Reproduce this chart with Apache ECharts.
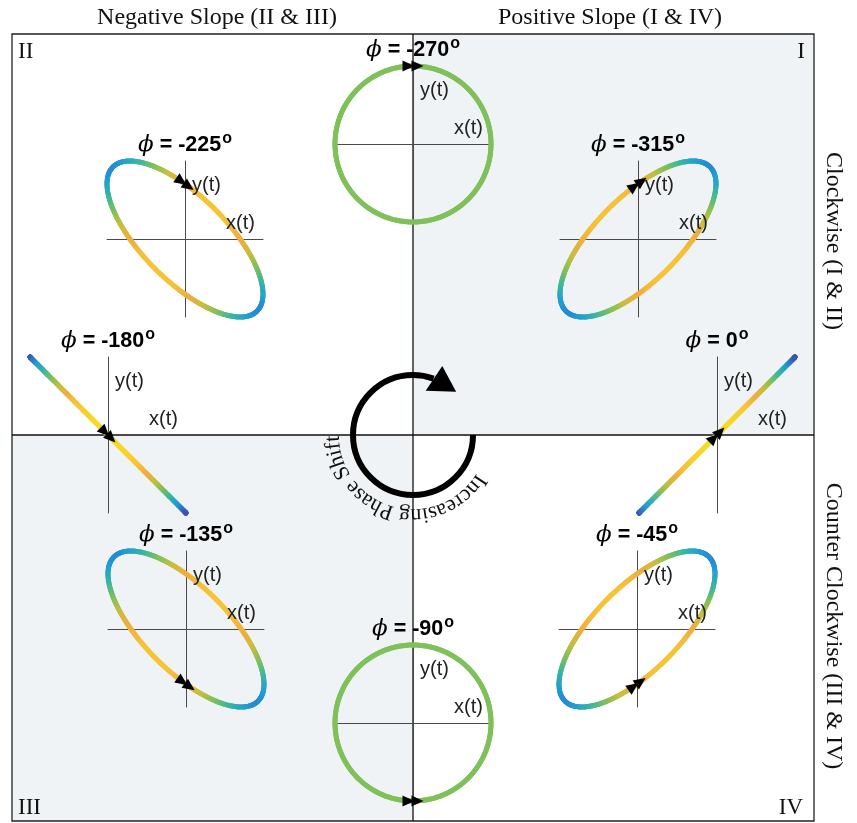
<!DOCTYPE html>
<html><head><meta charset="utf-8">
<script src="https://cdn.jsdelivr.net/npm/echarts@6/dist/echarts.min.js"></script>
<style>html,body{margin:0;padding:0;background:#fff}#chart{width:857px;height:823px}</style>
</head><body><div id="chart"></div>
<script>
// Phase offsets (degrees): x(t) = cos(t), y(t) = cos(t + phi)
const phases = [0, -45, -90, -135, -180, -225, -270, -315];
const phaseLabels = ['0', '-45', '-90', '-135', '-180', '-225', '-270', '-315'];
// panel centres on the page, same order as phases
const panelCenters = [[717, 435], [637, 629], [413, 723], [186, 629], [108, 435], [185, 239], [413, 144], [638, 239]];
// colour ramp along each trace, keyed on distance from the origin
const rampStops = [0, 0.45, 0.6, 0.72, 0.86, 1.0, 1.15, 1.28, 1.42];
const rampColors = ['#f7e31c', '#f7cd30', '#f4bf3b', '#f0ad3f', '#c6bf3e', '#7fc05a', '#36b5a4', '#1f9ad8', '#3f4fb0'];
const quadrantNames = ['I', 'II', 'III', 'IV'];
const slopeTitles = ['Negative Slope (II & III)', 'Positive Slope (I & IV)'];
const senseTitles = ['Clockwise (I & II)', 'Counter Clockwise (III & IV)'];
const loopCaption = 'Increasing Phase Shift';

const HALF = 78;          // half size of a panel in px
const SAMPLES = 240;
const deg = Math.PI / 180;

function hexToRgb(h) { return [1, 3, 5].map(i => parseInt(h.substr(i, 2), 16)); }
function rampColor(r) {
  if (r <= rampStops[0]) return rampColors[0];
  for (let i = 1; i < rampStops.length; i++) {
    if (r <= rampStops[i]) {
      const f = (r - rampStops[i - 1]) / (rampStops[i] - rampStops[i - 1]);
      const a = hexToRgb(rampColors[i - 1]), b = hexToRgb(rampColors[i]);
      return 'rgb(' + a.map((v, k) => Math.round(v + (b[k] - v) * f)).join(',') + ')';
    }
  }
  return rampColors[rampColors.length - 1];
}

function traceSegments(phi) {
  const out = [];
  const p = phi * deg;
  for (let k = 0; k < SAMPLES; k++) {
    const t1 = 2 * Math.PI * k / SAMPLES, t2 = 2 * Math.PI * (k + 1) / SAMPLES;
    const x1 = Math.cos(t1), y1 = Math.cos(t1 + p), x2 = Math.cos(t2), y2 = Math.cos(t2 + p);
    const xm = (x1 + x2) / 2, ym = (y1 + y2) / 2;
    out.push([x1, y1, x2, y2, Math.sqrt(xm * xm + ym * ym)]);
  }
  return out;
}
function arrowPoint(phi) {
  const t = 1.5 * Math.PI, p = phi * deg;
  return [[Math.cos(t), Math.cos(t + p), -Math.sin(t), -Math.sin(t + p)]];
}

const grids = [], xAxes = [], yAxes = [], series = [], graphics = [];
const axisStyle = { show: true, onZero: true, lineStyle: { color: '#4a4a4a', width: 1 } };

// page frame: shaded quadrants, border, centre cross
const L = 12, T = 34, R = 814, B = 821, CX = 413, CY = 435;
graphics.push({ type: 'rect', z: 0, shape: { x: CX, y: T, width: R - CX, height: CY - T }, style: { fill: '#f0f3f5' } });
graphics.push({ type: 'rect', z: 0, shape: { x: L, y: CY, width: CX - L, height: B - CY }, style: { fill: '#f0f3f5' } });
graphics.push({ type: 'rect', z: 1, shape: { x: L, y: T, width: R - L, height: B - T }, style: { fill: null, stroke: '#222', lineWidth: 1.3 } });
graphics.push({ type: 'line', z: 1, shape: { x1: CX, y1: T, x2: CX, y2: B }, style: { stroke: '#111', lineWidth: 1.3 } });
graphics.push({ type: 'line', z: 1, shape: { x1: L, y1: CY, x2: R, y2: CY }, style: { stroke: '#111', lineWidth: 1.3 } });

phases.forEach((phi, i) => {
  const [cx, cy] = panelCenters[i];
  grids.push({ left: cx - HALF, top: cy - HALF, width: 2 * HALF, height: 2 * HALF, containLabel: false });
  const ax = { type: 'value', gridIndex: i, min: -1, max: 1, z: 3, axisLine: axisStyle, axisTick: { show: false }, axisLabel: { show: false }, splitLine: { show: false } };
  xAxes.push(Object.assign({}, ax));
  yAxes.push(Object.assign({}, ax));
  series.push({
    type: 'custom', xAxisIndex: i, yAxisIndex: i, z: 4, silent: true, clip: false,
    encode: { x: [0, 2], y: [1, 3] },
    data: traceSegments(phi),
    renderItem: (params, api) => {
      const a = api.coord([api.value(0), api.value(1)]);
      const b = api.coord([api.value(2), api.value(3)]);
      return { type: 'line', shape: { x1: a[0], y1: a[1], x2: b[0], y2: b[1] },
        style: { stroke: rampColor(api.value(4)), lineWidth: 5, lineCap: 'round' } };
    }
  });
  series.push({
    type: 'custom', xAxisIndex: i, yAxisIndex: i, z: 6, silent: true, clip: false,
    encode: { x: 0, y: 1 },
    data: arrowPoint(phi),
    renderItem: (params, api) => {
      const x = api.value(0), y = api.value(1), dx = api.value(2), dy = api.value(3);
      const a = api.coord([x, y]);
      const b = api.coord([x + dx * 0.01, y + dy * 0.01]);
      let ux = b[0] - a[0], uy = b[1] - a[1];
      const n = Math.hypot(ux, uy); ux /= n; uy /= n;
      const nx = -uy, ny = ux;
      const heads = [-5, 4].map(o => {
        const px = a[0] + ux * o, py = a[1] + uy * o;
        return { type: 'polygon', shape: { points: [
          [px + ux * 6.5, py + uy * 6.5],
          [px - ux * 5.5 + nx * 5.5, py - uy * 5.5 + ny * 5.5],
          [px - ux * 5.5 - nx * 5.5, py - uy * 5.5 - ny * 5.5]] }, style: { fill: '#000' } };
      });
      return { type: 'group', children: heads };
    }
  });
  // panel title and axis names
  graphics.push({ type: 'text', z: 8, x: cx, y: cy - 94, style: {
    text: '{p|ϕ}{b| = ' + phaseLabels[i] + '}{s|o}', align: 'center', verticalAlign: 'middle',
    rich: {
      p: { fontFamily: 'DejaVu Serif', fontStyle: 'italic', fontSize: 23, lineHeight: 28, fill: '#000' },
      b: { fontFamily: 'Liberation Sans', fontWeight: 'bold', fontSize: 21.5, lineHeight: 28, fill: '#000' },
      s: { fontFamily: 'Liberation Sans', fontWeight: 'bold', fontSize: 16, lineHeight: 16, verticalAlign: 'top', fill: '#000', padding: [0, 0, 0, 1] }
    } } });
  graphics.push({ type: 'text', z: 8, x: cx + 7, y: cy - 54, style: { text: 'y(t)', fontFamily: 'Liberation Sans', fontSize: 20, fill: '#222', align: 'left', verticalAlign: 'middle' } });
  graphics.push({ type: 'text', z: 8, x: cx + 41, y: cy - 16, style: { text: 'x(t)', fontFamily: 'Liberation Sans', fontSize: 20, fill: '#222', align: 'left', verticalAlign: 'middle' } });
});

// headings and quadrant numerals
const serif = 'Liberation Serif';
graphics.push({ type: 'text', z: 8, x: 217, y: 18, style: { text: slopeTitles[0], fontFamily: serif, fontSize: 24, fill: '#111', align: 'center', verticalAlign: 'middle' } });
graphics.push({ type: 'text', z: 8, x: 610, y: 18, style: { text: slopeTitles[1], fontFamily: serif, fontSize: 24, fill: '#111', align: 'center', verticalAlign: 'middle' } });
graphics.push({ type: 'text', z: 8, x: 833, y: 241, rotation: -Math.PI / 2, style: { text: senseTitles[0], fontFamily: serif, fontSize: 24, fill: '#111', align: 'center', verticalAlign: 'middle' } });
graphics.push({ type: 'text', z: 8, x: 833, y: 626, rotation: -Math.PI / 2, style: { text: senseTitles[1], fontFamily: serif, fontSize: 24, fill: '#111', align: 'center', verticalAlign: 'middle' } });
const numeralPos = [[805, 52, 'right'], [18, 52, 'left'], [18, 808, 'left'], [803, 808, 'right']];
quadrantNames.forEach((q, i) => {
  const [x, y, al] = numeralPos[i];
  graphics.push({ type: 'text', z: 8, x, y, style: { text: q, fontFamily: serif, fontSize: 23, fill: '#111', align: al, verticalAlign: 'middle' } });
});

// circular arrow in the middle
const AR = 60;
graphics.push({ type: 'arc', z: 7, shape: { cx: CX, cy: CY, r: AR, startAngle: 0, endAngle: 290 * deg, clockwise: true }, style: { stroke: '#000', lineWidth: 6, fill: null } });
const polar = (a, r) => [CX + r * Math.cos(a * deg), CY + r * Math.sin(a * deg)];
graphics.push({ type: 'polygon', z: 7, shape: { points: [polar(-45, 61), polar(-67, 75), polar(-74, 46)] }, style: { fill: '#000' } });

// caption written around the arrow
const ctx = document.createElement('canvas').getContext('2d');
const capSize = 22, capGap = 0.5;
ctx.font = capSize + 'px "Liberation Serif"';
const CR = 80;
let run = 0;
const startA = 31 * deg;
for (const ch of loopCaption) {
  const w = ctx.measureText(ch).width + capGap;
  const a = startA + (run + w / 2) / CR;
  run += w;
  if (ch === ' ') continue;
  graphics.push({ type: 'text', z: 8, x: CX + CR * Math.cos(a), y: CY + CR * Math.sin(a), rotation: -(Math.PI / 2 + a),
    style: { text: ch, fontFamily: serif, fontSize: capSize, fill: '#111', align: 'center', verticalAlign: 'middle' } });
}

const chart = echarts.init(document.getElementById('chart'), null, { renderer: 'canvas' });
chart.setOption({ animation: false, backgroundColor: '#fff', grid: grids, xAxis: xAxes, yAxis: yAxes, series, graphic: graphics });
</script></body></html>
